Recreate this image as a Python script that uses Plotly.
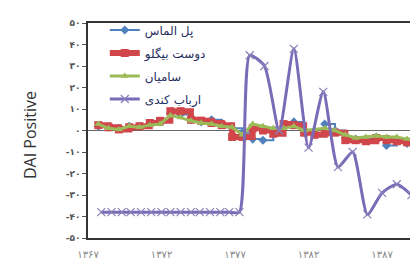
import plotly.graph_objects as go

# ---------------- data ----------------
years_main = [1367.7, 1368.4, 1369.1, 1369.8, 1370.5, 1371.2, 1371.9, 1372.6,
              1373.3, 1374.0, 1374.7, 1375.4, 1376.1, 1376.8, 1377.5, 1378.2,
              1378.9, 1379.6, 1380.3, 1381.0, 1381.7, 1382.4, 1383.1, 1383.8,
              1384.5, 1385.2, 1385.9, 1386.6, 1387.3, 1388.0, 1388.7, 1389.2]

pol_almas = [2, 1.5, 1, 2, 2, 3, 4, 8, 7.5, 5, 4, 5, 3, 1, -1, -4,
             -4.5, 0, 2, 4, -1, -1.5, 3, 0, -3.5, -4, -4, -3, -7, -5, -6, -9]
doost_beiglou = [2.5, 1.5, 0.5, 1.5, 2, 3.5, 4.5, 9, 9, 5, 4.5, 3.5, 2.5, -3, -3, 1,
                 0, -1.5, 3, 2.5, -1, -2, -1, -1, -4.5, -4.5, -5, -3.5, -4.5, -5, -5.5, -6]
samian = [3, 1, 0.5, 2, 1.5, 2.5, 3, 7, 6, 4.5, 3.5, 3, 2, 1.5, -2, 3,
          2, 1, 1, 2, 0, 0.5, 1, 0, -2, -3.5, -3, -2.5, -3, -3, -4, -4]

years_arbab = [1367.9, 1368.6, 1369.3, 1369.9, 1370.6, 1371.3, 1372.0, 1372.6,
               1373.3, 1374.0, 1374.6, 1375.3, 1376.0, 1376.6, 1377.3,
               1378.0, 1379.0, 1380.0, 1381.0, 1382.0, 1383.0, 1384.0,
               1385.0, 1386.0, 1387.0, 1388.0, 1389.0]
arbab_kandi = [-38, -38, -38, -38, -38, -38, -38, -38, -38, -38, -38, -38, -38, -38, -38,
               35, 30, 0, 38, -8, 18, -17, -10, -39, -29, -25, -30]

names = ["پل الماس", "دوست بیگلو", "سامیان", "ارباب کندی"]

x_tickvals = [1367, 1372, 1377, 1382, 1387]
x_ticktext = ["۱۳۶۷", "۱۳۷۲", "۱۳۷۷", "۱۳۸۲", "۱۳۸۷"]
y_tickvals = [50, 40, 30, 20, 10, 0, -10, -20, -30, -40, -50]
y_ticktext = ["۵۰", "۴۰", "۳۰", "۲۰", "۱۰", "۰", "-۱۰", "-۲۰", "-۳۰", "-۴۰", "-۵۰"]

# ---------------- figure ----------------
fig = go.Figure()

fig.add_trace(go.Scatter(
    x=years_main, y=pol_almas, name=names[0], legendgroup="a",
    mode="lines+markers", line=dict(color="#4F81BD", width=2, shape="hv"),
    marker=dict(symbol="diamond", size=7, color="#4F81BD")))
fig.add_trace(go.Scatter(
    x=years_main, y=doost_beiglou, name=names[1], legendgroup="b",
    mode="lines+markers", line=dict(color="#D0464A", width=6, shape="hv"),
    marker=dict(symbol="square", size=8, color="#D0464A")))
fig.add_trace(go.Scatter(
    x=years_main, y=samian, name=names[2], legendgroup="c",
    mode="lines+markers", line=dict(color="#9BBB59", width=3),
    marker=dict(symbol="triangle-up", size=7, color="#9BBB59")))
fig.add_trace(go.Scatter(
    x=years_arbab, y=arbab_kandi, name=names[3], legendgroup="d",
    mode="lines+markers", line=dict(color="#7A6BB8", width=3, shape="spline", smoothing=0.6),
    marker=dict(symbol="x-thin", size=8, color="#8a80b8",
                line=dict(color="#8a80b8", width=1.2))))

fig.update_layout(
    width=418, height=265,
    margin=dict(l=80, r=0, t=15, b=35),
    paper_bgcolor="white", plot_bgcolor="white",
    font=dict(family="DejaVu Sans", color="#444"),
    showlegend=True,
    legend=dict(x=0.05, y=1.035, xanchor="left", yanchor="top",
                bgcolor="rgba(255,255,255,0)", tracegroupgap=4,
                font=dict(size=12, color="#1f2f5f", family="DejaVu Sans"),
                itemwidth=30),
    xaxis=dict(range=[1367, 1389.85], showgrid=False, zeroline=False,
               showline=True, mirror=True, linecolor="#333", linewidth=1.5,
               tickmode="array", tickvals=x_tickvals, ticktext=x_ticktext,
               ticks="outside", ticklen=0, tickcolor="rgba(0,0,0,0)",
               ticklabelstandoff=6,
               tickfont=dict(size=10, color="#888")),
    yaxis=dict(range=[-50, 50], showgrid=False,
               zeroline=True, zerolinecolor="#666", zerolinewidth=1,
               showline=True, mirror=True, linecolor="#333", linewidth=1.5,
               tickmode="array", tickvals=y_tickvals, ticktext=y_ticktext,
               ticks="outside", ticklen=4, tickcolor="#555",
               tickfont=dict(size=9, color="#555", weight="bold")),
    annotations=[dict(text="DAI Positive", textangle=-90, xref="paper", yref="paper",
                      x=-0.172, y=0.48, xanchor="center", yanchor="middle",
                      showarrow=False, font=dict(size=16, color="#333",
                                                 family="Open Sans"))],
)

fig.write_html("out.html")
